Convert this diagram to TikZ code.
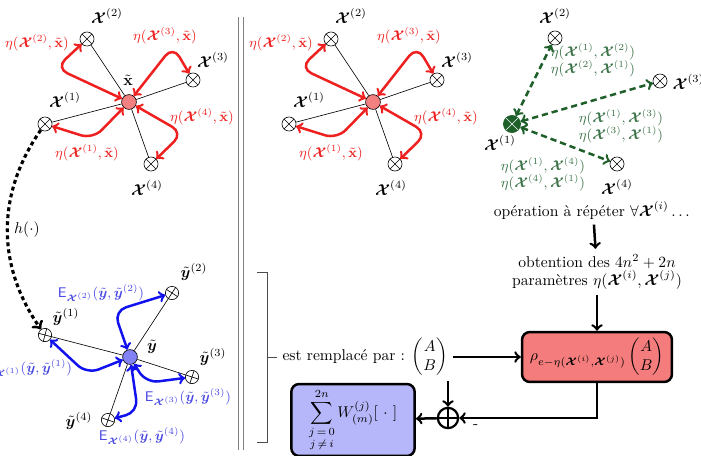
\documentclass[tikz,border=0pt]{standalone}
\usepackage{amsmath, bm}
\usetikzlibrary{positioning, calc}
\definecolor{etared}{HTML}{EE2020}
\definecolor{etalight}{HTML}{F28080}
\definecolor{rhofill}{HTML}{F47C7C}
\definecolor{eblue}{HTML}{1212EE}
\definecolor{elblue}{HTML}{4A4AE2}
\definecolor{ylight}{HTML}{8282F4}
\definecolor{sumfill}{HTML}{B6B6FA}
\definecolor{xgreen}{HTML}{1F5F2A}
\definecolor{glblc}{HTML}{3C7348}
\newcommand{\Xb}{\bm{\mathcal{X}}}
\tikzset{
	arrow/.style={line width=1.6pt, ->},
	etaarrow/.style={line width=1.6pt, <->, etared, rounded corners=8pt},
	earrow/.style={line width=1.6pt, <->, eblue, rounded corners=8pt},
	garrow/.style={line width=1.6pt, <->, xgreen, dash pattern=on 4pt off 2.5pt},
	hmap/.style={line width=2pt, ->, dash pattern=on 2.5pt off 2pt},
	otimes/.style={circle, draw, minimum size=9pt, inner sep=0pt,
		path picture={\draw[#1] (path picture bounding box.north west) -- (path picture bounding box.south east)
			(path picture bounding box.north east) -- (path picture bounding box.south west);}},
	otimes/.default=black,
	ynode/.style={circle, draw, minimum size=8.5pt, inner sep=0pt},
	xcenter/.style={circle, draw, fill=etalight, minimum size=9.5pt, inner sep=0pt},
	ycenter/.style={circle, draw, fill=ylight, minimum size=9.5pt, inner sep=0pt},
	oplus/.style={circle, draw, line width=1.4pt, minimum size=13pt, inner sep=0pt,
		path picture={\draw[line width=1.4pt] (path picture bounding box.north) -- (path picture bounding box.south)
			(path picture bounding box.west) -- (path picture bounding box.east);}},
	rhobox/.style={draw, line width=1.6pt, rounded corners=5pt, fill=rhofill, minimum width=96pt, minimum height=32pt},
	sumbox/.style={draw, line width=1.6pt, rounded corners=5pt, fill=sumfill, minimum width=79pt, minimum height=42pt},
	etalbl/.style={font=\small, text=etared},
	elbl/.style={font=\small, text=elblue},
	glbl/.style={font=\small, text=glblc, align=center},
	bracket/.style={draw=black!70, line width=0.6pt},
	dline/.style={draw=gray, line width=0.7pt, double, double distance=2.6pt},
}

\begin{document}
\begin{tikzpicture}[x=0.0225cm, y=-0.0225cm]
	\useasboundingbox (0,0) rectangle (701,455);

	\draw[dline] (241,17) -- (241,450);

	% graphe de gauche
	\node[xcenter] (xt) at (129,102) {};
	\node[otimes] (X1) at (45,124) {};
	\node[otimes] (X2) at (87,39) {};
	\node[otimes] (X3) at (193,80) {};
	\node[otimes] (X4) at (151,164) {};
	\node (X1lbl) at (65,100) {$\Xb^{(1)}$};
	\node (X2lbl) at (107,16) {$\Xb^{(2)}$};
	\node (X3lbl) at (213,60) {$\Xb^{(3)}$};
	\node (X4lbl) at (147,188) {$\Xb^{(4)}$};
	\node (xtlbl) at (128,80) {$\tilde{\mathbf{x}}$};
	\draw (xt) -- (X1);
	\draw (xt) -- (X2);
	\draw (xt) -- (X3);
	\draw (xt) -- (X4);
	\draw[etaarrow] (xt) -- (93,139) -- (X1);
	\draw[etaarrow] (xt) -- (56,68) -- (X2);
	\draw[etaarrow] (xt) -- (173,46) -- (X3);
	\draw[etaarrow] (xt) -- (183,133) -- (X4);
	\node[etalbl] (eta1) at (87,153) {$\eta(\Xb^{(1)},\tilde{\mathbf{x}})$};
	\node[etalbl] (eta2) at (37,43) {$\eta(\Xb^{(2)},\tilde{\mathbf{x}})$};
	\node[etalbl] (eta3) at (165,36) {$\eta(\Xb^{(3)},\tilde{\mathbf{x}})$};
	\node[etalbl] (eta4) at (202,117) {$\eta(\Xb^{(4)},\tilde{\mathbf{x}})$};

	% graphe du milieu
	\node[xcenter] (xtb) at (373,102) {};
	\node[otimes] (X1b) at (289,124) {};
	\node[otimes] (X2b) at (331,39) {};
	\node[otimes] (X3b) at (437,80) {};
	\node[otimes] (X4b) at (395,164) {};
	\node (X1blbl) at (309,100) {$\Xb^{(1)}$};
	\node (X2blbl) at (351,16) {$\Xb^{(2)}$};
	\node (X3blbl) at (457,60) {$\Xb^{(3)}$};
	\node (X4blbl) at (391,188) {$\Xb^{(4)}$};
	\draw (xtb) -- (X1b);
	\draw (xtb) -- (X2b);
	\draw (xtb) -- (X3b);
	\draw (xtb) -- (X4b);
	\draw[etaarrow] (xtb) -- (337,139) -- (X1b);
	\draw[etaarrow] (xtb) -- (300,68) -- (X2b);
	\draw[etaarrow] (xtb) -- (417,46) -- (X3b);
	\draw[etaarrow] (xtb) -- (427,133) -- (X4b);
	\node[etalbl] (eta1b) at (331,153) {$\eta(\Xb^{(1)},\tilde{\mathbf{x}})$};
	\node[etalbl] (eta2b) at (281,43) {$\eta(\Xb^{(2)},\tilde{\mathbf{x}})$};
	\node[etalbl] (eta3b) at (409,36) {$\eta(\Xb^{(3)},\tilde{\mathbf{x}})$};
	\node[etalbl] (eta4b) at (446,117) {$\eta(\Xb^{(4)},\tilde{\mathbf{x}})$};

	% graphe de droite
	\node[otimes=white, fill=xgreen, draw=xgreen, minimum size=11pt] (G1) at (512,124) {};
	\node[otimes] (G2) at (555,38) {};
	\node[otimes] (G3) at (660,81) {};
	\node[otimes] (G4) at (617,164) {};
	\node (G1lbl) at (500,143) {$\Xb^{(1)}$};
	\node (G2lbl) at (555,16) {$\Xb^{(2)}$};
	\node[anchor=west] (G3lbl) at (667,82) {$\Xb^{(3)}$};
	\node (G4lbl) at (617,187) {$\Xb^{(4)}$};
	\draw[garrow] (G1) -- (G2);
	\draw[garrow] (G1) -- (G3);
	\draw[garrow] (G1) -- (G4);
	\node[glbl] (eta12) at (593,60) {$\eta(\Xb^{(1)},\Xb^{(2)})$\\$\eta(\Xb^{(2)},\Xb^{(1)})$};
	\node[glbl] (eta13) at (621,126) {$\eta(\Xb^{(1)},\Xb^{(3)})$\\$\eta(\Xb^{(3)},\Xb^{(1)})$};
	\node[glbl] (eta14) at (543,174) {$\eta(\Xb^{(1)},\Xb^{(4)})$\\$\eta(\Xb^{(4)},\Xb^{(1)})$};

	\node (op) at (593,210) {opération à répéter $\forall\Xb^{(i)}\dots$};
	\node[align=center] (obt) at (597,272) {obtention des $4n^2+2n$\\paramètres $\eta(\Xb^{(i)},\Xb^{(j)})$};
	\node[rhobox] (rho) at (597,357) {$\rho_{e-\eta(\Xb^{(i)},\Xb^{(j)})}\begin{pmatrix}A\\B\end{pmatrix}$};
	\node[anchor=west] (repl) at (277,357) {est remplacé par : $\begin{pmatrix}A\\B\end{pmatrix}$};
	\node[oplus] (plus) at (448,418) {};
	\node[sumbox] (sum) at (353,420) {$\displaystyle\sum_{\substack{j\,=\,0\\ j\,\neq\,i}}^{2n} W^{(j)}_{(m)}[\ \cdot\ ]$};
	\draw[arrow] (op) -- (obt);
	\draw[arrow] (obt) -- (rho);
	\draw[arrow] (repl) -- (rho);
	\draw[arrow] (repl.south -| plus) -- (plus);
	\draw[arrow] (rho) |- (plus) node[pos=0.94, below] {-};
	\draw[arrow] (plus) -- (sum);
	\draw[bracket] (257,272) -- (267,272) -- (267,442) -- (257,442);
	\draw[bracket] (267,357) -- (repl);

	% graphe transforme
	\node[ycenter] (yc) at (130,357) {};
	\node[ynode] (Y1) at (45,335) {};
	\node[ynode] (Y2) at (172,293) {};
	\node[ynode] (Y3) at (192,377) {};
	\node[ynode] (Y4) at (108,420) {};
	\node (Y1lbl) at (66,317) {$\tilde{\bm{y}}^{(1)}$};
	\node (Y2lbl) at (194,272) {$\tilde{\bm{y}}^{(2)}$};
	\node (Y3lbl) at (213,357) {$\tilde{\bm{y}}^{(3)}$};
	\node (Y4lbl) at (79,421) {$\tilde{\bm{y}}^{(4)}$};
	\node (yclbl) at (152,347) {$\tilde{\bm{y}}$};
	\draw (yc) -- (Y1);
	\draw (yc) -- (Y2);
	\draw (yc) -- (Y3);
	\draw (yc) -- (Y4);
	\draw (Y1.165) -- (Y1.345) (Y1.75) -- (Y1.255);
	\draw (Y2.57) -- (Y2.237) (Y2.147) -- (Y2.327);
	\draw (Y3.342) -- (Y3.162) (Y3.72) -- (Y3.252);
	\draw (Y4.251) -- (Y4.71) (Y4.161) -- (Y4.341);
	\draw[earrow] (yc) -- (87,374) -- (Y1);
	\draw[earrow] (yc) -- (114,311) -- (Y2);
	\draw[earrow] (yc) -- (146,383) -- (Y3);
	\draw[earrow] (yc) -- (138,412) -- (Y4);
	\node[elbl] (E1) at (29,368) {$\mathsf{E}_{\Xb^{(1)}}(\tilde{\bm{y}},\tilde{\bm{y}}^{(1)})$};
	\node[elbl] (E2) at (101,293) {$\mathsf{E}_{\Xb^{(2)}}(\tilde{\bm{y}},\tilde{\bm{y}}^{(2)})$};
	\node[elbl] (E3) at (188,397) {$\mathsf{E}_{\Xb^{(3)}}(\tilde{\bm{y}},\tilde{\bm{y}}^{(3)})$};
	\node[elbl] (E4) at (142,436) {$\mathsf{E}_{\Xb^{(4)}}(\tilde{\bm{y}},\tilde{\bm{y}}^{(4)})$};

	\draw[hmap] (X1) to[bend right=35] node[midway, right] {$h(\cdot)$} (Y1);
\end{tikzpicture}
\end{document}
